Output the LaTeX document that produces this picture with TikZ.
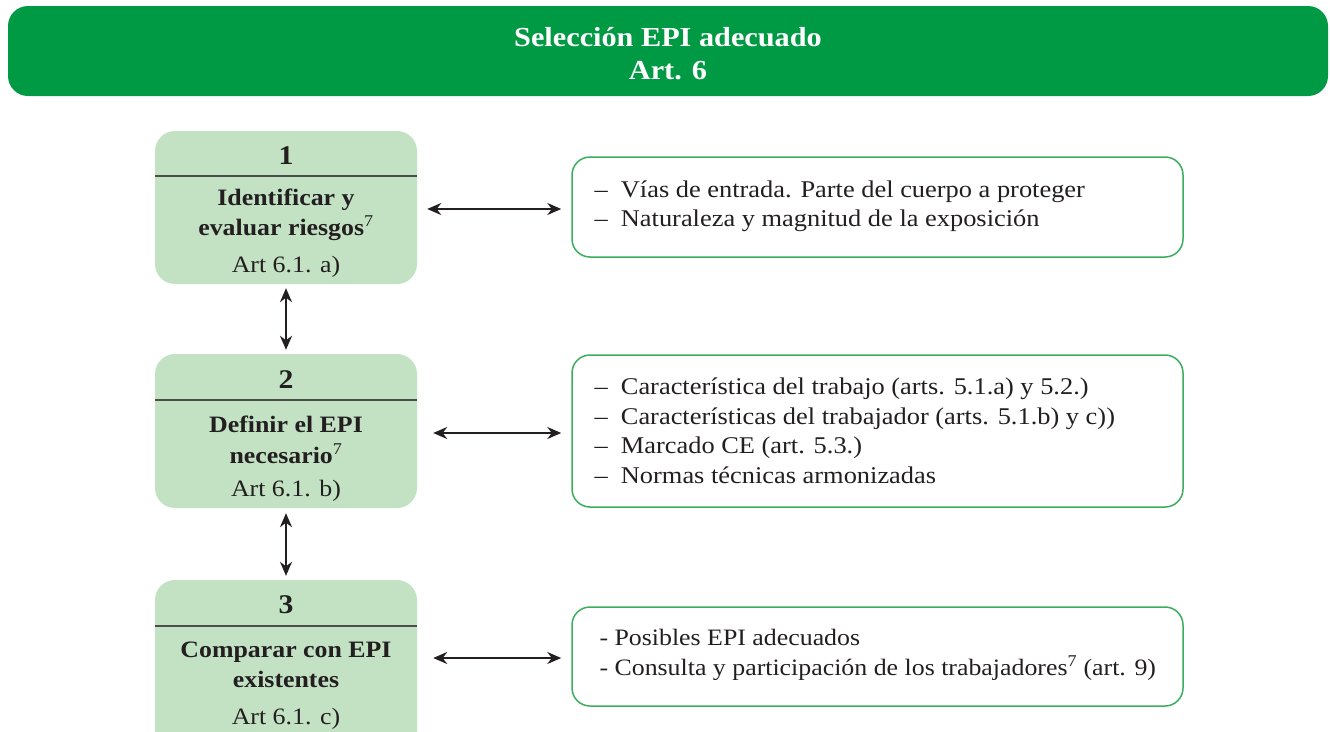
\documentclass[tikz,border=0pt]{standalone}
\usepackage{fontspec}
\setmainfont[FakeStretch=1.1]{Liberation Serif}
\usetikzlibrary{arrows.meta}
\definecolor{hdr}{HTML}{009A44}
\definecolor{lbox}{HTML}{C3E2C4}
\definecolor{rline}{HTML}{3BAE5E}
\definecolor{txt}{HTML}{231F20}
\tikzset{
  header/.style={rounded corners=20pt, fill=hdr, draw=none, minimum width=1320pt, minimum height=90pt, inner sep=0pt},
  leftbox/.style={rounded corners=20pt, fill=lbox, draw=none, minimum width=262pt, inner sep=0pt},
  rightbox/.style={rounded corners=18pt, draw=rline, line width=1.5pt, fill=white, minimum width=611pt, inner sep=0pt},
  divider/.style={draw=black!70, line width=1.6pt},
  numtxt/.style={font=\fontsize{27}{30}\selectfont\bfseries, text=txt},
  titletxt/.style={font=\fontsize{23.5}{30.5}\selectfont\bfseries, text=txt, align=center},
  arttxt/.style={font=\fontsize{23.5}{30}\selectfont, text=txt},
  listtxt/.style={font=\fontsize{24}{29.5}\selectfont, text=txt, align=left, anchor=west},
  hdrtxt/.style={font=\fontsize{27.5}{33}\selectfont\bfseries, text=white, align=center},
  biarrow/.style={{Stealth[length=14pt,width=12pt]}-{Stealth[length=14pt,width=12pt]}, line width=2pt, draw=txt},
}
\begin{document}
\begin{tikzpicture}[x=1pt,y=-1pt]
\useasboundingbox (0,0) rectangle (1330,731);
\clip (0,0) rectangle (1330,731);
% header
\node[header] (hdr) at (668,51) {};
\node[hdrtxt] (hdrt) at (668,54) {Selección EPI adecuado\\Art. 6};
% left boxes
\node[leftbox, minimum height=153pt] (l1) at (286,207.5) {};
\node[leftbox, minimum height=154pt] (l2) at (286,431) {};
\node[leftbox, minimum height=175pt] (l3) at (286,667.5) {};
\draw[divider] (155,176) -- (417,176);
\draw[divider] (155,400) -- (417,400);
\draw[divider] (155,626) -- (417,626);
\node[numtxt] (n1) at (286,156) {1};
\node[numtxt] (n2) at (286,380) {2};
\node[numtxt] (n3) at (286,605) {3};
\node[titletxt] (t1) at (286,215) {Identificar y\\evaluar riesgos\textsuperscript{\normalfont 7}};
\node[titletxt] (t2) at (286,440) {Definir el EPI\\necesario\textsuperscript{\normalfont 7}};
\node[titletxt] (t3) at (286,665) {Comparar con EPI\\existentes};
\node[arttxt] (a1) at (286,267) {Art 6.1. a)};
\node[arttxt] (a2) at (286,491) {Art 6.1. b)};
\node[arttxt] (a3) at (286,719) {Art 6.1. c)};
% right boxes
\node[rightbox, minimum height=100pt] (r1) at (877.5,207) {};
\node[rightbox, minimum height=152pt] (r2) at (877.5,431) {};
\node[rightbox, minimum height=99pt] (r3) at (877.5,656.5) {};
\node[listtxt] (x1) at (591,206) {–\ \ Vías de entrada. Parte del cuerpo a proteger\\–\ \ Naturaleza y magnitud de la exposición};
\node[listtxt] (x2) at (591,431) {–\ \ Característica del trabajo (arts. 5.1.a) y 5.2.)\\–\ \ Características del trabajador (arts. 5.1.b) y c))\\–\ \ Marcado CE (art. 5.3.)\\–\ \ Normas técnicas armonizadas};
\node[listtxt, font=\fontsize{23.5}{29.5}\selectfont] (x3) at (596,655) {- Posibles EPI adecuados\\- Consulta y participación de los trabajadores\textsuperscript{7} (art. 9)};
% arrows
\draw[biarrow, shorten <=10pt, shorten >=10pt] (l1.east |- 0,209) -- (r1.west |- 0,209);
\draw[biarrow, shorten <=16pt, shorten >=10pt] (l2.east |- 0,433) -- (r2.west |- 0,433);
\draw[biarrow, shorten <=16pt, shorten >=10pt] (l3.east |- 0,658) -- (r3.west |- 0,658);
\draw[biarrow, shorten <=4pt, shorten >=4pt] (l1.south) -- (l2.north);
\draw[biarrow, shorten <=5pt, shorten >=4pt] (l2.south) -- (l3.north);
\end{tikzpicture}
\end{document}
